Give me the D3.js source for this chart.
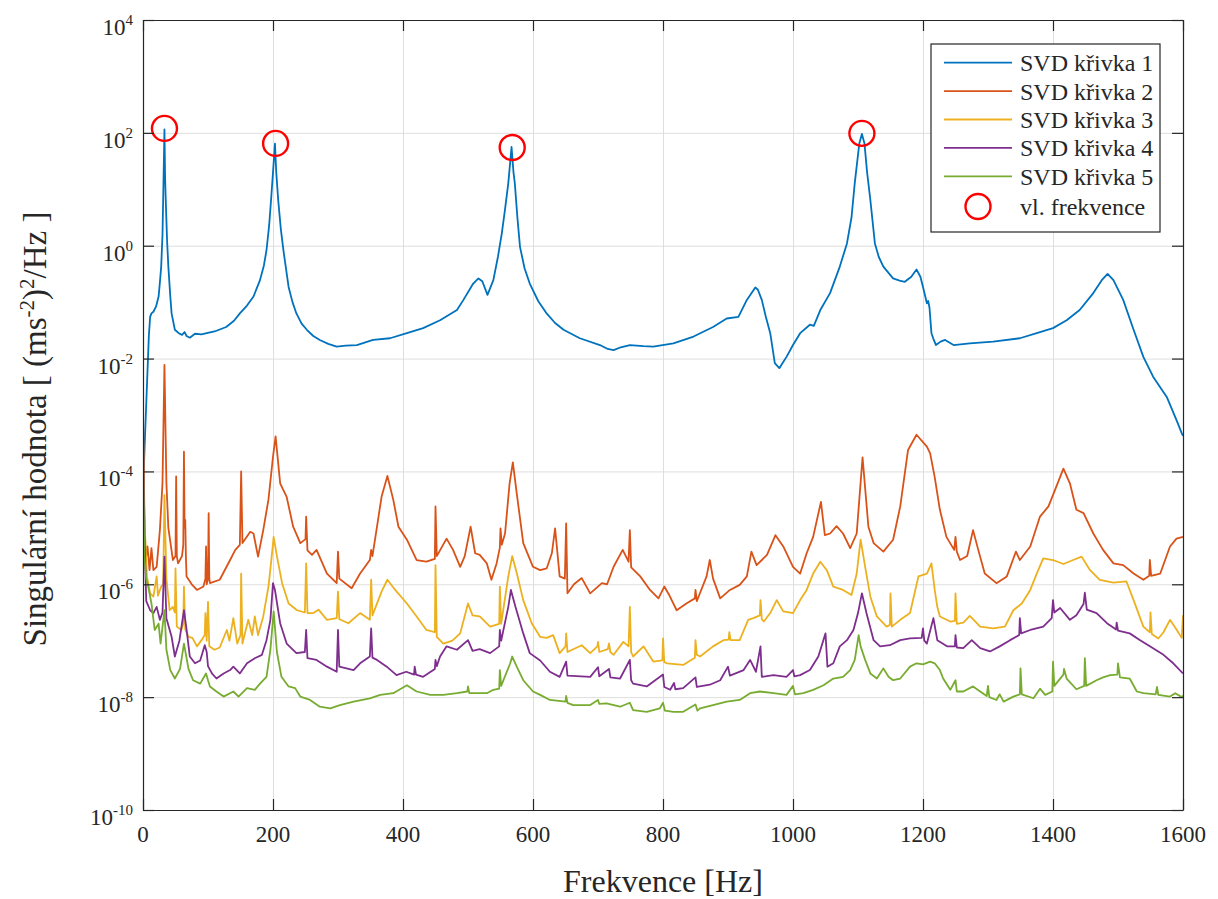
<!DOCTYPE html>
<html><head><meta charset="utf-8">
<script src="https://cdn.jsdelivr.net/npm/d3@7"></script>
<style>
body{margin:0;background:#fff}
svg{display:block}
</style>
</head><body>
<svg id="c" width="1218" height="899" font-family="'Liberation Serif', Tinos, 'Times New Roman', 'DejaVu Serif', serif"></svg>
<script>
// ---------- data (frequency [Hz], log10 of singular value) ----------
const xTicks = [0, 200, 400, 600, 800, 1000, 1200, 1400, 1600];
const yTickExps = [4, 2, 0, -2, -4, -6, -8, -10];
const seriesNames = ["SVD křivka 1", "SVD křivka 2", "SVD křivka 3", "SVD křivka 4", "SVD křivka 5"];
const markerName = "vl. frekvence";
const peakFreqs = [33, 204, 568, 1106];
const peakValues = [120, 65, 55, 98];

const svd1 = [[0,-4.38],[3,-3.4],[6,-2.5],[9,-1.6],[11,-1.26],[13,-1.2],[16,-1.17],[20,-1.08],[24,-0.9],[26,-0.65],[28,-0.37],[30,0.2],[31,0.81],[33,2.06],[34,1.2],[35,0.81],[37,0.1],[39,-0.37],[42,-0.9],[44,-1.2],[49,-1.49],[55,-1.55],[60,-1.58],[64,-1.53],[67,-1.6],[72,-1.63],[80,-1.56],[90,-1.57],[98,-1.55],[110,-1.52],[128,-1.44],[140,-1.33],[149,-1.2],[160,-1.06],[170,-0.9],[180,-0.61],[186,-0.35],[190,-0.08],[194,0.35],[197,0.81],[200,1.3],[203,1.81],[205,1.3],[208,0.81],[212,0.3],[216,-0.08],[224,-0.73],[230,-1.0],[236,-1.2],[244,-1.38],[252,-1.49],[262,-1.6],[272,-1.67],[285,-1.74],[298,-1.79],[312,-1.77],[329,-1.76],[354,-1.67],[380,-1.64],[406,-1.55],[431,-1.46],[457,-1.32],[483,-1.14],[493,-0.96],[508,-0.67],[516,-0.58],[522,-0.63],[530,-0.87],[539,-0.61],[546,-0.2],[552,0.22],[557,0.65],[562,1.11],[567,1.75],[570,1.3],[572,1.11],[576,0.5],[580,-0.02],[587,-0.4],[595,-0.67],[608,-0.98],[621,-1.2],[634,-1.37],[647,-1.49],[672,-1.64],[703,-1.76],[715,-1.83],[724,-1.85],[735,-1.8],[749,-1.76],[770,-1.78],[785,-1.79],[816,-1.73],[847,-1.61],[877,-1.44],[898,-1.29],[916,-1.26],[929,-0.96],[942,-0.74],[946,-0.78],[952,-0.96],[958,-1.25],[965,-1.55],[972,-2.08],[979,-2.17],[984,-2.08],[990,-1.97],[1000,-1.76],[1011,-1.55],[1026,-1.40],[1032,-1.42],[1042,-1.14],[1057,-0.84],[1072,-0.37],[1083,0.04],[1090,0.5],[1095,1.11],[1102,1.81],[1106,1.98],[1110,1.81],[1114,1.3],[1119,0.81],[1126,0.04],[1132,-0.2],[1139,-0.37],[1154,-0.58],[1164,-0.62],[1172,-0.64],[1182,-0.55],[1190,-0.42],[1196,-0.55],[1200,-0.73],[1206,-1.02],[1208,-0.98],[1210,-1.1],[1213,-1.55],[1216,-1.65],[1220,-1.76],[1227,-1.7],[1234,-1.67],[1247,-1.76],[1272,-1.73],[1308,-1.70],[1349,-1.64],[1375,-1.55],[1400,-1.46],[1421,-1.32],[1441,-1.14],[1462,-0.84],[1475,-0.61],[1484,-0.50],[1493,-0.61],[1508,-0.96],[1524,-1.49],[1539,-1.97],[1554,-2.32],[1575,-2.68],[1590,-3.09],[1598,-3.32],[1600,-3.37]];

const svd2 = [[0,-3.0],[2,-4.6],[4,-5.57],[7,-5.33],[10,-5.75],[13,-5.36],[16,-5.75],[21,-5.69],[26,-5.04],[30,-4.2],[33,-2.11],[36,-4.2],[39,-5.0],[46,-5.57],[50,-5.5],[51,-4.09],[52,-5.5],[54,-5.63],[60,-5.5],[62,-5.3],[63,-3.65],[64,-5.0],[65,-4.86],[66,-5.5],[67,-5.86],[75,-6.0],[83,-6.10],[93,-6.04],[96,-5.9],[97,-5.33],[98,-6.0],[100,-5.9],[101,-4.74],[102,-5.9],[103,-5.98],[118,-5.92],[134,-5.57],[142,-5.39],[149,-5.3],[151,-4.0],[153,-5.27],[165,-5.07],[170,-5.1],[177,-5.51],[185,-5.04],[193,-4.5],[200,-3.74],[204,-3.38],[211,-4.21],[221,-4.45],[231,-4.98],[242,-5.27],[250,-5.2],[251,-4.80],[253,-5.40],[260,-5.48],[267,-5.39],[283,-5.81],[298,-5.98],[300,-5.42],[302,-5.9],[321,-6.07],[334,-5.81],[349,-5.57],[351,-5.39],[353,-5.5],[360,-4.98],[367,-4.45],[376,-4.08],[385,-4.5],[393,-4.98],[406,-5.21],[421,-5.57],[436,-5.6],[449,-5.55],[450,-4.62],[452,-5.5],[467,-5.19],[477,-5.39],[488,-5.69],[495,-5.5],[504,-4.98],[511,-5.45],[518,-5.48],[529,-5.63],[536,-5.92],[544,-5.63],[549,-5.35],[550,-5.01],[552,-5.3],[557,-5.1],[564,-4.21],[569,-3.84],[575,-4.39],[585,-5.27],[600,-5.69],[611,-5.75],[621,-5.72],[629,-5.45],[634,-5.01],[641,-5.86],[649,-5.9],[651,-4.92],[653,-6.16],[663,-6.0],[675,-5.89],[688,-6.16],[706,-5.98],[714,-6.0],[724,-5.69],[738,-5.39],[747,-5.6],[749,-5.04],[751,-5.7],[765,-5.86],[780,-6.10],[793,-6.25],[802,-6.04],[810,-6.2],[821,-6.46],[836,-6.34],[849,-6.25],[850,-6.1],[852,-6.3],[867,-5.86],[872,-5.57],[877,-5.9],[888,-6.25],[903,-6.10],[918,-6.01],[929,-5.86],[936,-5.42],[944,-5.66],[960,-5.48],[973,-5.13],[985,-5.33],[1000,-5.69],[1011,-5.81],[1021,-5.45],[1031,-5.16],[1043,-4.54],[1049,-5.13],[1057,-5.1],[1067,-4.97],[1077,-5.1],[1088,-5.36],[1098,-5.10],[1107,-3.75],[1116,-4.98],[1124,-5.27],[1139,-5.42],[1154,-5.21],[1165,-4.62],[1177,-3.62],[1190,-3.35],[1206,-3.56],[1211,-3.68],[1218,-4.1],[1226,-4.68],[1236,-5.16],[1248,-5.39],[1250,-5.16],[1252,-5.42],[1257,-5.57],[1268,-5.5],[1277,-5.04],[1285,-5.39],[1295,-5.81],[1313,-5.98],[1329,-5.86],[1343,-5.42],[1349,-5.57],[1365,-5.33],[1380,-4.80],[1393,-4.62],[1403,-4.33],[1416,-3.95],[1426,-4.21],[1436,-4.68],[1447,-4.74],[1462,-5.10],[1477,-5.39],[1493,-5.63],[1508,-5.66],[1524,-5.81],[1539,-5.92],[1548,-5.85],[1549,-5.57],[1551,-5.85],[1565,-5.81],[1580,-5.33],[1590,-5.19],[1600,-5.16]];

const svd3 = [[0,-3.3],[2,-4.8],[6,-5.86],[11,-6.16],[16,-6.22],[21,-5.86],[23,-6.2],[28,-6.04],[31,-6.0],[33,-4.42],[36,-5.9],[41,-6.46],[46,-6.4],[49,-6.5],[50,-5.72],[52,-6.75],[59,-6.81],[62,-6.7],[63,-6.04],[65,-6.8],[70,-6.93],[76,-6.95],[83,-7.10],[90,-6.99],[95,-6.9],[96,-6.51],[98,-7.0],[100,-6.31],[102,-7.1],[110,-7.16],[118,-7.12],[129,-6.81],[133,-7.0],[139,-6.60],[145,-7.05],[150,-6.9],[151,-5.81],[153,-7.05],[162,-6.63],[168,-6.9],[172,-6.57],[177,-6.9],[185,-6.57],[193,-6.04],[198,-5.51],[201,-5.16],[206,-5.5],[214,-5.98],[224,-6.34],[237,-6.46],[249,-6.5],[251,-5.63],[253,-6.51],[262,-6.51],[270,-6.45],[283,-6.63],[298,-6.6],[300,-6.13],[302,-6.62],[316,-6.69],[334,-6.51],[349,-6.63],[351,-5.92],[353,-6.55],[367,-6.13],[376,-5.92],[388,-6.1],[406,-6.34],[421,-6.57],[436,-6.81],[449,-6.85],[450,-5.66],[452,-6.93],[462,-7.05],[476,-7.0],[488,-6.87],[500,-6.34],[507,-6.55],[518,-6.57],[534,-6.75],[548,-6.7],[549,-6.04],[551,-6.7],[562,-5.86],[568,-5.50],[575,-5.8],[585,-6.28],[598,-6.69],[611,-6.93],[621,-6.95],[631,-6.90],[641,-7.22],[650,-7.1],[651,-6.87],[653,-7.2],[675,-7.08],[688,-7.22],[699,-7.1],[700,-7.02],[702,-7.2],[715,-7.15],[717,-7.05],[719,-7.2],[724,-7.25],[739,-7.02],[747,-7.1],[749,-6.40],[751,-7.2],[754,-7.28],[770,-7.10],[785,-7.37],[799,-7.35],[800,-6.96],[802,-7.38],[806,-7.40],[831,-7.43],[849,-7.3],[850,-6.99],[852,-7.25],[857,-7.28],[877,-7.10],[893,-6.99],[901,-6.98],[902,-6.85],[904,-6.99],[918,-6.99],[931,-6.63],[939,-6.6],[949,-6.55],[950,-6.28],[952,-6.62],[955,-6.66],[965,-6.51],[975,-6.28],[985,-6.48],[1000,-6.51],[1011,-6.28],[1021,-6.10],[1031,-5.81],[1042,-5.60],[1052,-5.75],[1062,-6.04],[1077,-6.10],[1090,-6.19],[1098,-5.81],[1104,-5.21],[1111,-5.69],[1119,-6.22],[1129,-6.57],[1144,-6.75],[1149,-6.72],[1150,-6.16],[1152,-6.75],[1165,-6.63],[1180,-6.51],[1193,-5.86],[1206,-5.81],[1213,-5.63],[1218,-6.1],[1222,-6.40],[1226,-6.57],[1242,-6.66],[1249,-6.65],[1250,-6.16],[1252,-6.7],[1262,-6.68],[1272,-6.56],[1288,-6.75],[1308,-6.78],[1326,-6.75],[1339,-6.46],[1352,-6.34],[1365,-6.10],[1375,-5.81],[1385,-5.54],[1400,-5.57],[1416,-5.64],[1431,-5.57],[1444,-5.51],[1457,-5.75],[1472,-5.92],[1493,-5.97],[1513,-5.95],[1524,-6.28],[1539,-6.75],[1549,-6.85],[1550,-6.5],[1552,-6.88],[1562,-6.96],[1570,-6.85],[1580,-6.63],[1590,-6.8],[1598,-6.95],[1600,-6.55]];

const svd4 = [[0,-3.45],[2,-5.0],[5,-6.3],[11,-6.46],[16,-6.51],[21,-6.40],[26,-6.63],[30,-6.5],[33,-5.51],[36,-6.6],[44,-6.93],[49,-7.28],[56,-7.0],[63,-6.46],[67,-6.8],[72,-7.28],[80,-7.40],[88,-7.35],[95,-7.08],[98,-7.2],[100,-7.45],[106,-7.58],[113,-7.67],[124,-7.58],[134,-7.52],[139,-7.46],[149,-7.58],[160,-7.40],[172,-7.31],[183,-7.25],[190,-6.99],[196,-6.63],[200,-5.98],[203,-6.1],[211,-6.69],[221,-7.05],[236,-7.22],[249,-7.2],[251,-6.81],[253,-7.31],[267,-7.34],[283,-7.46],[298,-7.55],[300,-6.81],[302,-7.46],[324,-7.52],[334,-7.40],[349,-7.28],[351,-6.78],[353,-7.3],[360,-7.34],[375,-7.46],[390,-7.61],[405,-7.55],[417,-7.6],[418,-7.46],[420,-7.6],[431,-7.64],[449,-7.5],[450,-7.34],[452,-7.45],[457,-7.28],[467,-7.10],[483,-7.16],[500,-6.99],[507,-7.18],[518,-7.15],[534,-7.22],[548,-7.1],[549,-6.81],[551,-7.0],[562,-6.40],[566,-6.10],[573,-6.40],[585,-6.87],[595,-7.22],[611,-7.35],[626,-7.55],[641,-7.64],[651,-7.37],[653,-7.62],[688,-7.64],[700,-7.47],[702,-7.63],[717,-7.5],[719,-7.65],[734,-7.67],[749,-7.34],[751,-7.7],[754,-7.76],[775,-7.81],[800,-7.6],[802,-7.82],[811,-7.87],[817,-7.75],[819,-7.86],[831,-7.84],[850,-7.65],[852,-7.82],[872,-7.78],[888,-7.70],[900,-7.46],[903,-7.62],[924,-7.52],[934,-7.34],[943,-7.55],[950,-7.10],[952,-7.64],[970,-7.61],[990,-7.64],[1000,-7.52],[1002,-7.63],[1011,-7.61],[1026,-7.52],[1039,-7.28],[1050,-6.87],[1053,-7.46],[1062,-7.40],[1072,-7.10],[1083,-6.99],[1093,-6.81],[1100,-6.51],[1106,-6.16],[1113,-6.51],[1124,-6.99],[1134,-7.10],[1149,-7.08],[1165,-6.99],[1180,-6.96],[1198,-6.95],[1200,-6.78],[1202,-7.0],[1206,-7.05],[1216,-6.60],[1222,-6.99],[1237,-7.10],[1249,-7.1],[1250,-6.9],[1252,-7.12],[1262,-7.13],[1275,-6.99],[1288,-7.13],[1303,-7.19],[1318,-7.10],[1334,-6.99],[1348,-6.9],[1349,-6.60],[1351,-6.87],[1365,-6.81],[1385,-6.75],[1398,-6.6],[1400,-6.28],[1402,-6.5],[1411,-6.42],[1426,-6.63],[1436,-6.55],[1447,-6.35],[1449,-6.15],[1452,-6.45],[1467,-6.51],[1483,-6.69],[1497,-6.8],[1498,-6.68],[1500,-6.82],[1518,-6.87],[1534,-6.99],[1549,-7.10],[1570,-7.25],[1585,-7.40],[1600,-7.58]];

const svd5 = [[0,-3.8],[2,-5.5],[5,-5.9],[8,-6.04],[13,-6.34],[18,-6.81],[24,-6.7],[27,-7.05],[33,-6.46],[36,-7.16],[42,-7.52],[49,-7.67],[57,-7.5],[63,-7.05],[70,-7.5],[77,-7.70],[88,-7.76],[97,-7.58],[100,-7.7],[103,-7.81],[113,-7.90],[124,-7.99],[139,-7.90],[147,-7.99],[160,-7.84],[172,-7.87],[180,-7.76],[190,-7.64],[196,-7.16],[201,-6.48],[206,-7.2],[213,-7.64],[224,-7.81],[234,-7.84],[242,-7.99],[257,-8.05],[272,-8.17],[288,-8.20],[303,-8.14],[324,-8.08],[349,-8.02],[365,-7.96],[385,-7.93],[406,-7.79],[421,-7.90],[442,-7.96],[462,-7.96],[483,-7.93],[499,-7.9],[500,-7.81],[502,-7.93],[529,-7.93],[539,-7.87],[548,-7.85],[549,-7.52],[551,-7.8],[565,-7.40],[568,-7.28],[575,-7.46],[585,-7.70],[600,-7.90],[611,-7.96],[626,-8.05],[650,-8.08],[651,-7.98],[653,-8.1],[662,-8.14],[688,-8.14],[700,-8.05],[702,-8.12],[713,-8.11],[734,-8.17],[749,-8.1],[754,-8.23],[775,-8.26],[795,-8.20],[800,-8.1],[803,-8.24],[816,-8.26],[831,-8.26],[850,-8.13],[853,-8.24],[857,-8.20],[877,-8.14],[898,-8.08],[918,-8.05],[934,-7.93],[949,-7.90],[970,-7.93],[990,-7.96],[1000,-7.80],[1003,-7.95],[1016,-7.93],[1031,-7.87],[1047,-7.79],[1062,-7.67],[1077,-7.64],[1088,-7.52],[1095,-7.34],[1101,-6.90],[1104,-7.10],[1111,-7.34],[1119,-7.58],[1129,-7.67],[1139,-7.49],[1147,-7.64],[1154,-7.70],[1165,-7.67],[1180,-7.46],[1190,-7.40],[1200,-7.42],[1211,-7.37],[1218,-7.40],[1226,-7.52],[1231,-7.67],[1242,-7.87],[1250,-7.7],[1252,-7.9],[1262,-7.90],[1277,-7.81],[1288,-7.90],[1298,-7.98],[1300,-7.8],[1302,-8.0],[1313,-8.05],[1318,-7.95],[1324,-8.08],[1339,-7.99],[1349,-7.95],[1350,-7.49],[1352,-7.95],[1370,-8.02],[1380,-7.85],[1388,-7.96],[1399,-7.9],[1400,-7.37],[1402,-7.8],[1416,-7.6],[1417,-7.50],[1421,-7.67],[1436,-7.86],[1448,-7.8],[1449,-7.31],[1451,-7.8],[1467,-7.70],[1477,-7.65],[1488,-7.61],[1499,-7.6],[1500,-7.40],[1503,-7.65],[1518,-7.67],[1529,-7.90],[1539,-7.93],[1558,-7.95],[1560,-7.82],[1562,-7.96],[1580,-7.99],[1588,-7.93],[1598,-8.0],[1600,-7.97]];

const seriesData = [svd1, svd2, svd3, svd4, svd5];
const colors = ["#0072BD", "#D95319", "#EDB120", "#7E2F8E", "#77AC30"];

// ---------- layout ----------
const FONT = "'Liberation Serif', Tinos, 'Times New Roman', 'DejaVu Serif', serif";
const L = 143, R = 1183, T = 20, B = 810;
const svg = d3.select("#c");
const x = d3.scaleLinear().domain([0, 1600]).range([L, R]);
const y = d3.scaleLog().domain([1e-10, 1e4]).range([B, T]);
const yTicks = yTickExps.map(e => Math.pow(10, e));
const axisColor = "#262626";
const gridColor = "#dedede";

// grid
svg.append("g").attr("transform", `translate(0,${B})`)
  .call(d3.axisBottom(x).tickValues(xTicks).tickSize(-(B - T)).tickFormat(""))
  .call(g => { g.select(".domain").remove(); g.selectAll("line").attr("stroke", gridColor).attr("stroke-width", 1); });
svg.append("g").attr("transform", `translate(${L},0)`)
  .call(d3.axisLeft(y).tickValues(yTicks).tickSize(-(R - L)).tickFormat(""))
  .call(g => { g.select(".domain").remove(); g.selectAll("line").attr("stroke", gridColor).attr("stroke-width", 1); });

// series
const line = d3.line().x(d => x(d[0])).y(d => y(Math.pow(10, d[1])));
svg.append("defs").append("clipPath").attr("id", "clip")
  .append("rect").attr("x", L).attr("y", T).attr("width", R - L).attr("height", B - T);
const plot = svg.append("g").attr("clip-path", "url(#clip)");
seriesData.forEach((s, i) => {
  plot.append("path").datum(s).attr("d", line)
    .attr("fill", "none").attr("stroke", colors[i]).attr("stroke-width", 1.8)
    .attr("stroke-linejoin", "round");
});

// peak markers
plot.selectAll("circle.pk").data(peakFreqs.map((f, i) => [f, peakValues[i]]))
  .enter().append("circle").attr("class", "pk")
  .attr("cx", d => x(d[0])).attr("cy", d => y(d[1])).attr("r", 12.5)
  .attr("fill", "none").attr("stroke", "#FF0000").attr("stroke-width", 2.4);

// axes (box with inward ticks)
const tk = 11;
function styleAxis(g) {
  g.selectAll("path.domain").attr("stroke", axisColor).attr("stroke-width", 1.2);
  g.selectAll(".tick line").attr("stroke", axisColor).attr("stroke-width", 1.2);
  g.selectAll(".tick text").remove();
}
svg.append("g").attr("transform", `translate(0,${B})`)
  .call(d3.axisBottom(x).tickValues(xTicks).tickSizeInner(-tk).tickSizeOuter(0)).call(styleAxis);
svg.append("g").attr("transform", `translate(0,${T})`)
  .call(d3.axisTop(x).tickValues(xTicks).tickSizeInner(-tk).tickSizeOuter(0)).call(styleAxis);
svg.append("g").attr("transform", `translate(${L},0)`)
  .call(d3.axisLeft(y).tickValues(yTicks).tickSizeInner(-tk).tickSizeOuter(0)).call(styleAxis);
svg.append("g").attr("transform", `translate(${R},0)`)
  .call(d3.axisRight(y).tickValues(yTicks).tickSizeInner(-tk).tickSizeOuter(0)).call(styleAxis);

const txt = sel => sel.attr("font-family", FONT).attr("fill", axisColor).style("font-family", FONT);

// x tick labels
svg.append("g").selectAll("text").data(xTicks).enter().append("text")
  .attr("x", d => x(d)).attr("y", B + 32).attr("text-anchor", "middle")
  .attr("font-size", 23).text(d => d).call(txt);

// y tick labels 10^n
const yl = svg.append("g").selectAll("text").data(yTickExps).enter().append("text")
  .attr("x", L - 10).attr("y", d => y(Math.pow(10, d)) + 15).attr("text-anchor", "end")
  .attr("font-size", 23).call(txt);
yl.append("tspan").text("10");
yl.append("tspan").attr("dy", -10).attr("font-size", 15).text(d => d);

// axis titles
svg.append("text").attr("x", (L + R) / 2).attr("y", 892).attr("text-anchor", "middle")
  .attr("font-size", 32).text("Frekvence [Hz]").call(txt);
const yt = svg.append("text").attr("transform", `translate(46,${(T + B) / 2 + 14}) rotate(-90)`)
  .attr("text-anchor", "middle").attr("font-size", 33).call(txt);
yt.append("tspan").text("Singulární hodnota [ (ms");
yt.append("tspan").attr("dy", -12).attr("font-size", 21).text("-2");
yt.append("tspan").attr("dy", 12).text(")");
yt.append("tspan").attr("dy", -12).attr("font-size", 21).text("2");
yt.append("tspan").attr("dy", 12).text("/Hz ]");

// legend
const lg = svg.append("g");
lg.append("rect").attr("x", 931).attr("y", 44).attr("width", 229).attr("height", 188)
  .attr("fill", "#fff").attr("stroke", axisColor).attr("stroke-width", 1.2);
seriesNames.forEach((n, i) => {
  const yy = 62.7 + i * 28.4;
  lg.append("line").attr("x1", 944).attr("x2", 1012).attr("y1", yy).attr("y2", yy)
    .attr("stroke", colors[i]).attr("stroke-width", 1.8);
  lg.append("text").attr("x", 1020).attr("y", yy + 8.5).attr("font-size", 24).text(n).call(txt);
});
lg.append("circle").attr("cx", 978).attr("cy", 206.5).attr("r", 12.5)
  .attr("fill", "none").attr("stroke", "#FF0000").attr("stroke-width", 2.4);
lg.append("text").attr("x", 1020).attr("y", 215).attr("font-size", 24).text(markerName).call(txt);
</script>
</body></html>
